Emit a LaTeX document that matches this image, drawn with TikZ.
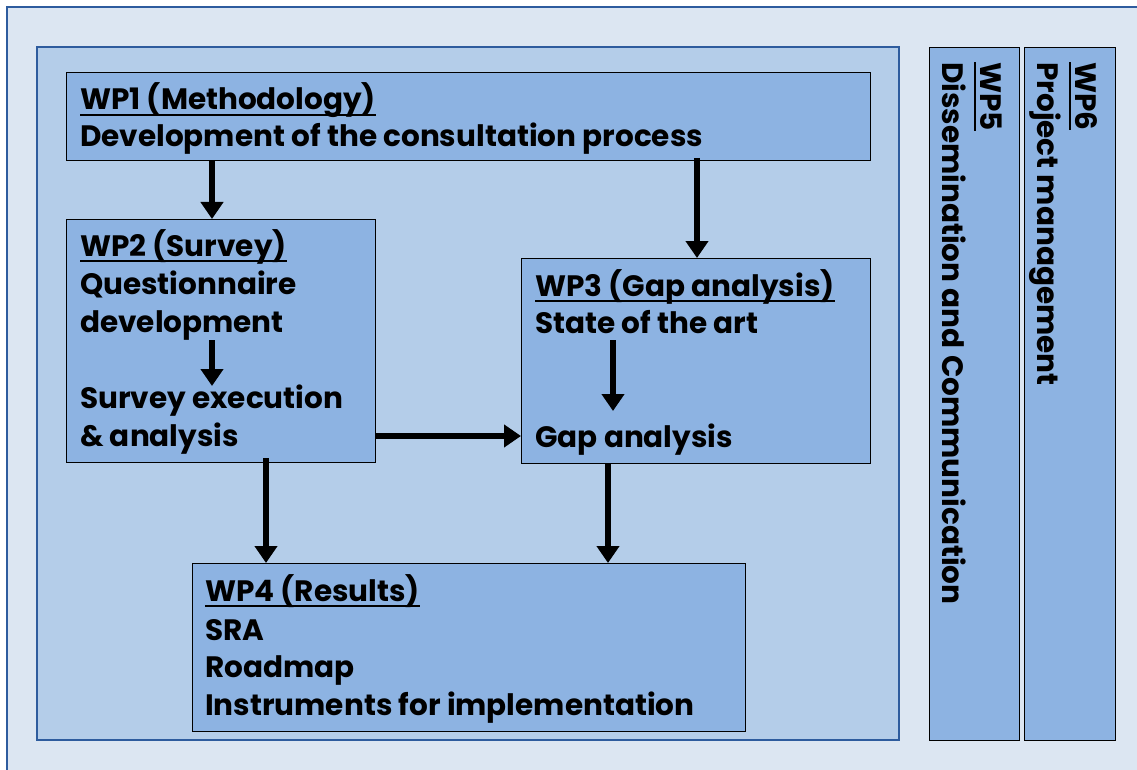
\documentclass[tikz,border=0pt]{standalone}
\usepackage{fontspec}
\setmainfont{Poppins}
\usetikzlibrary{arrows.meta}
\definecolor{bgpale}{HTML}{DCE6F2}
\definecolor{bgmid}{HTML}{B4CDE9}
\definecolor{boxblue}{HTML}{8DB3E2}
\definecolor{frameblue}{HTML}{2E5C9E}
\newcommand{\ul}[1]{\setbox0\hbox{#1}\rlap{\raisebox{-6pt}{\rule{\wd0}{2pt}}}\box0}
\tikzset{
  wpbox/.style={draw=black, line width=1pt, fill=boxblue},
  flow/.style={line width=6pt, -{Triangle[width=22pt,length=17pt]}},
  txt/.style={anchor=base west, inner sep=0pt, font=\bfseries\fontsize{29.5}{32}\selectfont},
  vtxt/.style={anchor=base west, inner sep=0pt, rotate=-90, font=\bfseries\fontsize{29.5}{32}\selectfont},
}
\begin{document}
\begin{tikzpicture}[x=1pt,y=-1pt]
\useasboundingbox (0,0) rectangle (1137,770);
\fill[white] (0,0) rectangle (1137,770);
\begin{scope}
\clip (0,0) rectangle (1137,770);
\draw[frameblue, line width=1.2pt, fill=bgpale] (7,7) rectangle (1150,790);
\end{scope}
\draw[frameblue, line width=1.2pt, fill=bgmid] (37,47) rectangle (899,740);
% boxes
\node[wpbox, minimum width=804pt, minimum height=88pt, anchor=north west] (wp1) at (66,72) {};
\node[wpbox, minimum width=309pt, minimum height=243pt, anchor=north west] (wp2) at (66,219) {};
\node[wpbox, minimum width=349pt, minimum height=205pt, anchor=north west] (wp3) at (521,258) {};
\node[wpbox, minimum width=553pt, minimum height=168pt, anchor=north west] (wp4) at (192,563) {};
\node[wpbox, minimum width=90pt, minimum height=693pt, anchor=north west] (wp5) at (929,47) {};
\node[wpbox, minimum width=91pt, minimum height=693pt, anchor=north west] (wp6) at (1024,47) {};
% text
\node[txt] (t1a) at (80,110) {\ul{WP1 (Methodology)}};
\node[txt] (t1b) at (80,147) {Development of the consultation process};
\node[txt] (t2a) at (80,256) {\ul{WP2 (Survey)}};
\node[txt] (t2b) at (80,294) {Questionnaire};
\node[txt] (t2c) at (80,332) {development};
\node[txt] (t2d) at (80,408) {Survey execution};
\node[txt] (t2e) at (80,446) {\& analysis};
\node[txt] (t3a) at (535,296) {\ul{WP3 (Gap analysis)}};
\node[txt] (t3b) at (535,333) {State of the art};
\node[txt] (t3c) at (535,447) {Gap analysis};
\node[txt] (t4a) at (205,601) {\ul{WP4 (Results)}};
\node[txt] (t4b) at (205,640) {SRA};
\node[txt] (t4c) at (205,677) {Roadmap};
\node[txt] (t4d) at (205,715) {Instruments for implementation};
\node[vtxt] (t5a) at (980,62) {\ul{WP5}};
\node[vtxt] (t5b) at (942,62) {Dissemination and Communication};
\node[vtxt] (t6a) at (1075,62) {\ul{WP6}};
\node[vtxt] (t6b) at (1037,62) {Project management};
% arrows
\coordinate (q1) at (212,340);
\coordinate (q2) at (212,386);
\coordinate (s1) at (613,340);
\coordinate (s2) at (613,411);
\draw[flow] (wp1.south -| q1) -- (wp2.north -| q1);
\draw[flow] ([yshift=3pt]wp1.south -| 697,0) -- (wp3.north -| 697,0);
\draw[flow] (q1) -- (q2);
\draw[flow] (s1) -- (s2);
\draw[flow] (wp2.east |- 0,436) -- (wp3.west |- 0,436);
\draw[flow] ([yshift=5pt]wp2.south -| 266,0) -- (wp4.north -| 266,0);
\draw[flow] (wp3.south -| 608,0) -- (wp4.north -| 608,0);
\end{tikzpicture}
\end{document}
